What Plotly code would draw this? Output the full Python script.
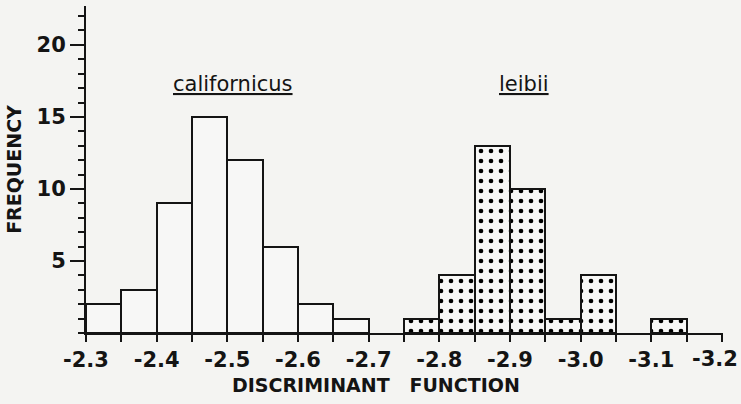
import plotly.graph_objects as go

# Bin edges (width 0.05) and counts
bin_width = 0.05
cal_left_edges = [-2.30, -2.35, -2.40, -2.45, -2.50, -2.55, -2.60, -2.65]
cal_counts = [2, 3, 9, 15, 12, 6, 2, 1]

lei_left_edges = [-2.75, -2.80, -2.85, -2.90, -2.95, -3.00, -3.05, -3.10]
lei_counts = [1, 4, 13, 10, 1, 4, 0, 1]

x_tick_vals = [-2.3, -2.4, -2.5, -2.6, -2.7, -2.8, -2.9, -3.0, -3.1, -3.2]
x_tick_text = ["-2.3", "-2.4", "-2.5", "-2.6", "-2.7", "-2.8", "-2.9", "-3.0", "-3.1", "-3.2"]
y_tick_vals = [5, 10, 15, 20]

BG = "#f4f4f2"
FONT = "DejaVu Sans"
INK = "#141414"

def centers(edges):
    return [e - bin_width / 2 for e in edges]

fig = go.Figure()
fig.add_trace(go.Bar(
    x=centers(cal_left_edges), y=cal_counts, width=bin_width,
    marker=dict(color="#f7f7f6", line=dict(color=INK, width=2)),
    showlegend=False, hoverinfo="skip",
))
lx = [c for c, n in zip(centers(lei_left_edges), lei_counts) if n > 0]
ly = [n for n in lei_counts if n > 0]
fig.add_trace(go.Bar(
    x=lx, y=ly, width=bin_width,
    marker=dict(color="#f7f7f6", line=dict(color=INK, width=2),
                pattern=dict(shape=".", fgcolor="#000000", bgcolor="#f7f7f6",
                             size=10, solidity=0.17, fillmode="overlay",
                             fgopacity=1)),
    showlegend=False, hoverinfo="skip",
))

fig.add_annotation(x=-2.508, y=17.3, text="<u>californicus</u>", showarrow=False,
                   font=dict(family=FONT, size=21, color=INK))
fig.add_annotation(x=-2.92, y=17.3, text="<u>leibii</u>", showarrow=False,
                   font=dict(family=FONT, size=21, color=INK))
fig.add_annotation(xref="paper", yref="paper", x=0.455, y=-0.159,
                   xanchor="center", yanchor="middle",
                   text="DISCRIMINANT   FUNCTION", showarrow=False,
                   font=dict(family=FONT, size=19, color=INK, weight="bold"))

# last tick label is right-aligned at the figure edge (as in the original)
tick_labels_shown = x_tick_text[:-1] + [""]
fig.add_annotation(x=x_tick_vals[-1], y=0, xanchor="right", yanchor="middle",
                   xshift=17, yshift=-26, text=x_tick_text[-1], showarrow=False,
                   borderpad=0,
                   font=dict(family=FONT, size=21, color=INK, weight="bold"))

fig.update_layout(
    width=741, height=404,
    margin=dict(l=86, r=18, t=6, b=71, autoexpand=False),
    paper_bgcolor=BG, plot_bgcolor=BG,
    bargap=0,
    xaxis=dict(
        range=[-2.3, -3.2015], showgrid=False, zeroline=False,
        automargin=False,
        showline=True, linecolor=INK, linewidth=2,
        tickvals=x_tick_vals, ticktext=tick_labels_shown,
        ticks="outside", ticklen=7, tickwidth=2, tickcolor=INK,
        minor=dict(dtick=0.05, tick0=-2.3, ticks="outside", ticklen=7,
                   tickwidth=2, tickcolor=INK, showgrid=False),
        tickfont=dict(family=FONT, size=21, color=INK, weight="bold"),
    ),
    yaxis=dict(
        range=[0, 22.7], showgrid=False, zeroline=False,
        automargin=False,
        showline=True, linecolor=INK, linewidth=2,
        tickvals=y_tick_vals, ticks="outside", ticklen=14, tickwidth=2,
        tickcolor=INK,
        minor=dict(dtick=1, tick0=0, ticks="outside", ticklen=6,
                   tickwidth=1.5, tickcolor=INK, showgrid=False),
        tickfont=dict(family=FONT, size=21, color=INK, weight="bold"),
        title=dict(text="FREQUENCY", standoff=10,
                   font=dict(family=FONT, size=19, color=INK, weight="bold")),
    ),
)

fig.write_html("out.html")
